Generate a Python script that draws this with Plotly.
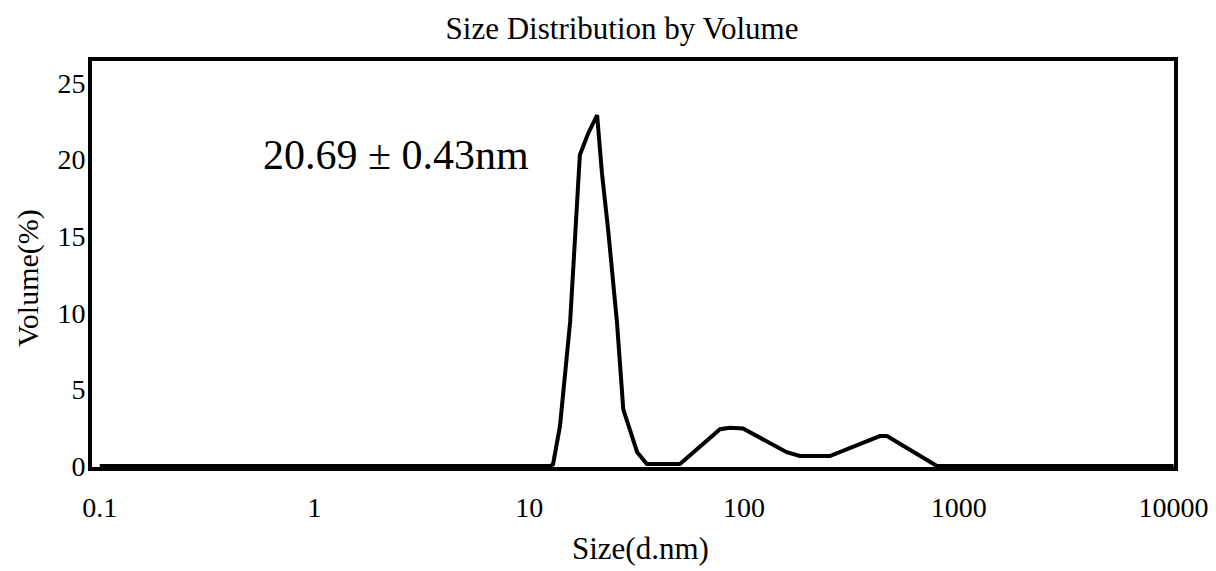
import plotly.graph_objects as go

# Data (size in d.nm, volume in %)
size_nm = [0.1, 12.5, 12.9, 13.9, 15.5, 17.2, 18.8, 20.7, 21.8, 23.3, 25.6, 27.4,
           31.8, 34.6, 35.3, 50.3, 77.3, 86.1, 98.9, 158, 182, 251, 429, 463, 791, 10000]
volume_pct = [0, 0, 0.1, 2.6, 9.4, 20.3, 21.7, 22.9, 19.1, 15.4, 9.4, 3.7,
              0.9, 0.26, 0.13, 0.13, 2.4, 2.5, 2.45, 0.9, 0.65, 0.65, 1.95, 1.95, 0, 0]

x_tickvals = [0.1, 1, 10, 100, 1000, 10000]
x_ticktext = ["0.1", "1", "10", "100", "1000", "10000"]
y_tickvals = [0, 5, 10, 15, 20, 25]
y_ticktext = ["0", "5", "10", "15", "20", "25"]

title_text = "Size Distribution by Volume"
x_title = "Size(d.nm)"
y_title = "Volume(%)"
peak_label = "20.69 ± 0.43nm"

FONT = "Liberation Serif, Times New Roman, serif"

# page body has an 8px default margin; compensate so the picture lines up
OFF = 8
W, H = 1216 - OFF, 571 - OFF
BOX_L, BOX_R, BOX_T, BOX_B = 92, 1174, 61, 467
L, R, T, B = BOX_L - OFF, 1216 - BOX_R, BOX_T - OFF, 571 - BOX_B
PW, PH = BOX_R - BOX_L, BOX_B - BOX_T


def px(xp):
    return (xp - BOX_L) / PW


def py(yp):
    return (BOX_B - yp) / PH


fig = go.Figure()
fig.add_trace(go.Scatter(
    x=size_nm, y=volume_pct, mode="lines",
    line=dict(color="black", width=4),
    showlegend=False, hoverinfo="x+y",
))

fig.update_layout(
    width=W, height=H,
    margin=dict(l=L, r=R, t=T, b=B, autoexpand=False),
    paper_bgcolor="white", plot_bgcolor="white",
    font=dict(family=FONT, color="black"),
    title=dict(text=title_text, x=px(622), xanchor="center", xref="paper",
               y=1 - (28 - OFF) / H, yref="container", yanchor="middle",
               font=dict(family=FONT, size=31, color="black")),
    xaxis=dict(
        type="log", range=[-1.036, 4.002],
        tickvals=x_tickvals, ticktext=x_ticktext,
        tickfont=dict(family=FONT, size=28, color="black"),
        showgrid=False, zeroline=False,
        showline=True, linecolor="black", linewidth=4, mirror=True,
        ticks="", ticklabelstandoff=12, ticklabeloverflow="allow",
    ),
    yaxis=dict(
        range=[-0.065, 26.43],
        tickvals=y_tickvals, ticktext=y_ticktext,
        tickfont=dict(family=FONT, size=28, color="black"),
        showgrid=False, zeroline=False,
        showline=True, linecolor="black", linewidth=4, mirror=True,
        ticks="", ticklabelstandoff=-3, ticklabeloverflow="allow",
    ),
    annotations=[
        dict(text=peak_label, xref="paper", yref="paper",
             x=px(396), y=py(155),
             xanchor="center", yanchor="middle", showarrow=False,
             font=dict(family=FONT, size=42, color="black")),
        dict(text=x_title, xref="paper", yref="paper",
             x=px(640), y=py(548),
             xanchor="center", yanchor="middle", showarrow=False,
             font=dict(family=FONT, size=31, color="black")),
        dict(text=y_title, xref="paper", yref="paper",
             x=px(28), y=py(278),
             xanchor="center", yanchor="middle", showarrow=False, textangle=-90,
             font=dict(family=FONT, size=30, color="black")),
    ],
)

fig.write_html("out.html")
